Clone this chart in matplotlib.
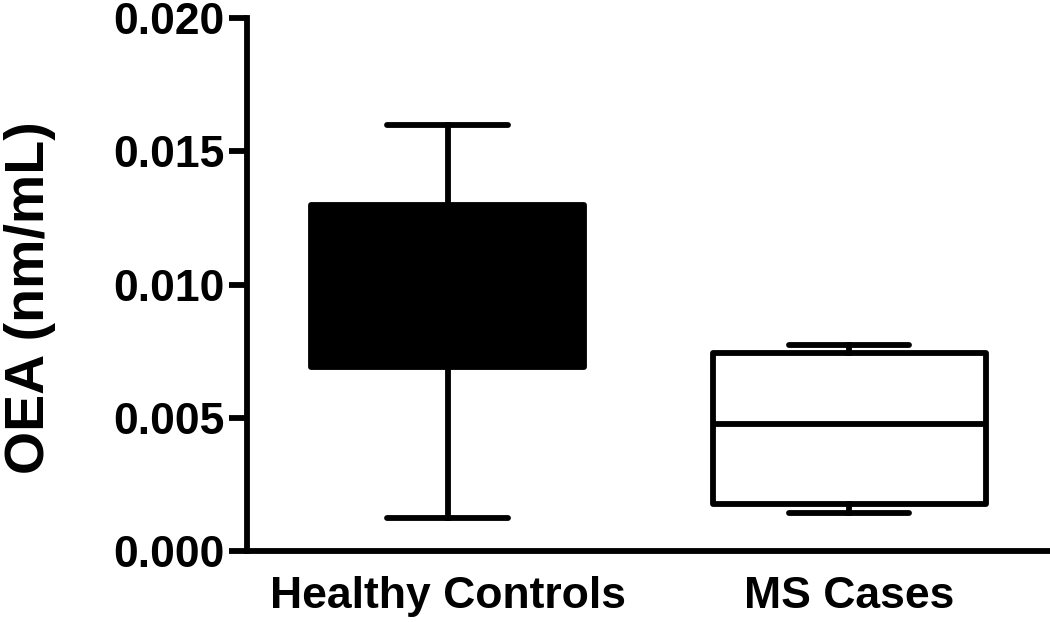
import matplotlib
matplotlib.use("Agg")
import matplotlib.pyplot as plt

# summary stats (nm/mL)
groups = ["Healthy Controls", "MS Cases"]
whislo = [0.00124, 0.00143]
q1 = [0.0069, 0.00177]
med = [0.0098, 0.00477]
q3 = [0.0130, 0.00743]
whishi = [0.0160, 0.00775]
fills = ["black", "white"]

plt.rcParams['font.family'] = ['Liberation Sans', 'DejaVu Sans']
plt.rcParams['font.weight'] = 'bold'

fig = plt.figure(figsize=(10.5, 6.22), dpi=100)
ax = fig.add_axes([0.235, 0.114, 0.765, 0.857])

stats = []
for i in range(len(groups)):
    stats.append({"label": groups[i], "whislo": whislo[i], "q1": q1[i],
                  "med": med[i], "q3": q3[i], "whishi": whishi[i]})

lw = 4.2
bp = ax.bxp(stats, positions=[1, 2], widths=0.68, capwidths=0.3,
            showfliers=False, patch_artist=True,
            boxprops=dict(linewidth=lw, edgecolor="black", joinstyle="round"),
            whiskerprops=dict(linewidth=lw, color="black"),
            capprops=dict(linewidth=lw, color="black", solid_capstyle="round"),
            medianprops=dict(linewidth=lw, color="black"))
for patch, c in zip(bp["boxes"], fills):
    patch.set_facecolor(c)

ax.set_xlim(0.5, 2.5)
ax.set_ylim(0, 0.020)
ax.set_yticks([0, 0.005, 0.010, 0.015, 0.020])
ax.set_yticklabels(["0.000", "0.005", "0.010", "0.015", "0.020"])
fig.text(0.029, 0.522, "OEA (nm/mL)", rotation=90, ha="center", va="center",
         fontsize=40, fontweight="bold")

for s in ["top", "right"]:
    ax.spines[s].set_visible(False)
ax.spines["left"].set_linewidth(lw)
ax.spines["bottom"].set_linewidth(lw)
ax.spines["left"].set_bounds(0, 0.020)

ax.tick_params(axis="y", direction="out", length=13, width=lw, labelsize=32, pad=3)
ax.tick_params(axis="x", length=0, labelsize=32, pad=18)
for lab in ax.get_xticklabels() + ax.get_yticklabels():
    lab.set_fontweight("bold")

fig.savefig("out.png", dpi=100)
